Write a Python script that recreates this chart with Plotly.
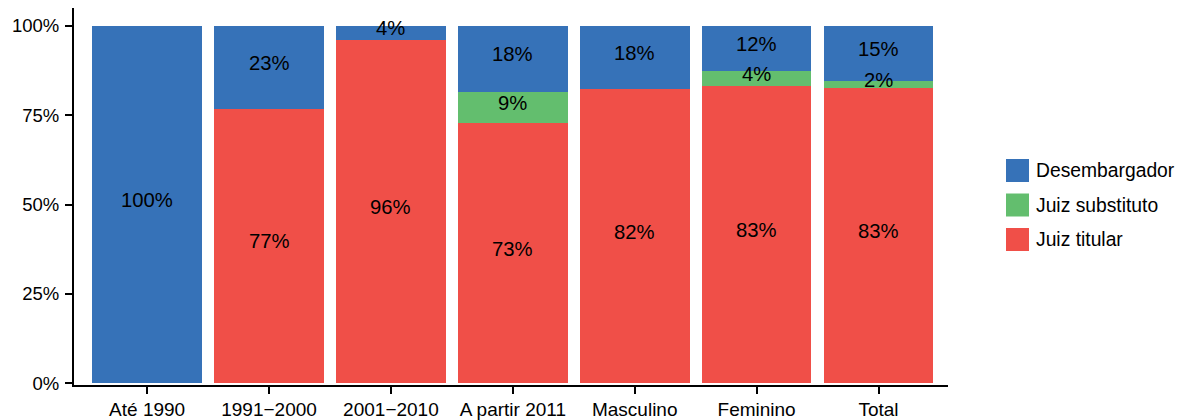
import plotly.graph_objects as go

# ---- data ----
categories = ["Até 1990", "1991\u22122000", "2001\u22122010", "A partir 2011", "Masculino", "Feminino", "Total"]
juiz_titular = [0, 76.8, 96.1, 72.7, 82.2, 83.3, 82.5]
juiz_substituto = [0, 0, 0, 8.9, 0, 4.1, 2.0]
desembargador = [100, 23.2, 3.9, 18.4, 17.8, 12.6, 15.5]
titular_labels = ["", "77%", "96%", "73%", "82%", "83%", "83%"]
substituto_labels = ["", "", "", "9%", "", "4%", "2%"]
desembargador_labels = ["100%", "23%", "4%", "18%", "18%", "12%", "15%"]
y_ticks = [0, 25, 50, 75, 100]
y_ticklabels = ["0%", "25%", "50%", "75%", "100%"]

series = [
    ("Juiz titular", juiz_titular, titular_labels, "#F04F48"),
    ("Juiz substituto", juiz_substituto, substituto_labels, "#63BE6E"),
    ("Desembargador", desembargador, desembargador_labels, "#3672B8"),
]

FONT = "Liberation Sans, Arial, sans-serif"
OFF = 8  # page body margin
W, H = 1186 - OFF, 420 - OFF
L, R, T, B = 74 - OFF, 238, 0, 35

fig = go.Figure()
annotations = []
base = [0.0] * len(categories)
for name, vals, labels, color in series:
    fig.add_trace(go.Bar(
        x=categories, y=vals, name=name, marker=dict(color=color, line=dict(width=0)),
        showlegend=False, hoverinfo="x+y+name",
    ))
    # segment labels, centred on each stacked segment
    for i, (cat, v, lab) in enumerate(zip(categories, vals, labels)):
        if lab:
            annotations.append(dict(x=cat, y=base[i] + v / 2, xref="x", yref="y",
                                    text=lab, showarrow=False, xanchor="center", yanchor="middle",
                                    yshift=4.5, font=dict(size=20.3, color="black", family=FONT)))
        base[i] += v

# manual legend (large squares like the reference), positions given in page pixels
pw = W - L - R
ph = H - T - B
def px2x(px):
    return (px - OFF - L) / pw
def px2y(py):
    return (H - B - (py - OFF)) / ph

shapes = []
legend_order = [series[2], series[1], series[0]]
for i, (name, _, _, color) in enumerate(legend_order):
    cy = 170.5 + i * 34.5
    shapes.append(dict(type="rect", xref="paper", yref="paper",
                       x0=px2x(1006), x1=px2x(1029), y0=px2y(cy + 11.5), y1=px2y(cy - 11.5),
                       fillcolor=color, line=dict(width=0)))
    annotations.append(dict(xref="paper", yref="paper", x=px2x(1034), y=px2y(cy),
                            text=name, showarrow=False, xanchor="left", yanchor="middle",
                            font=dict(size=19.3, color="black", family=FONT)))

fig.update_layout(
    width=W, height=H,
    margin=dict(l=L, r=R, t=T, b=B, pad=0, autoexpand=False),
    barmode="stack", bargap=0.1,
    plot_bgcolor="white", paper_bgcolor="white",
    font=dict(family=FONT, color="black"),
    shapes=shapes, annotations=annotations,
    showlegend=False,
)
fig.update_xaxes(
    range=[-0.6, 6.57], showline=True, linecolor="black", linewidth=2,
    ticks="outside", ticklen=7, tickwidth=2, tickcolor="black",
    tickfont=dict(size=19, color="black", family=FONT), showgrid=False, zeroline=False,
    ticklabelstandoff=-1, automargin=False,
)
fig.update_yaxes(
    range=[-0.5, 105], showline=True, linecolor="black", linewidth=2,
    tickvals=y_ticks, ticktext=y_ticklabels,
    ticks="outside", ticklen=7, tickwidth=2, tickcolor="black",
    tickfont=dict(size=18.5, color="black", family=FONT), showgrid=False, zeroline=False,
    ticklabelstandoff=2, automargin=False,
)

fig.write_html("out.html")
